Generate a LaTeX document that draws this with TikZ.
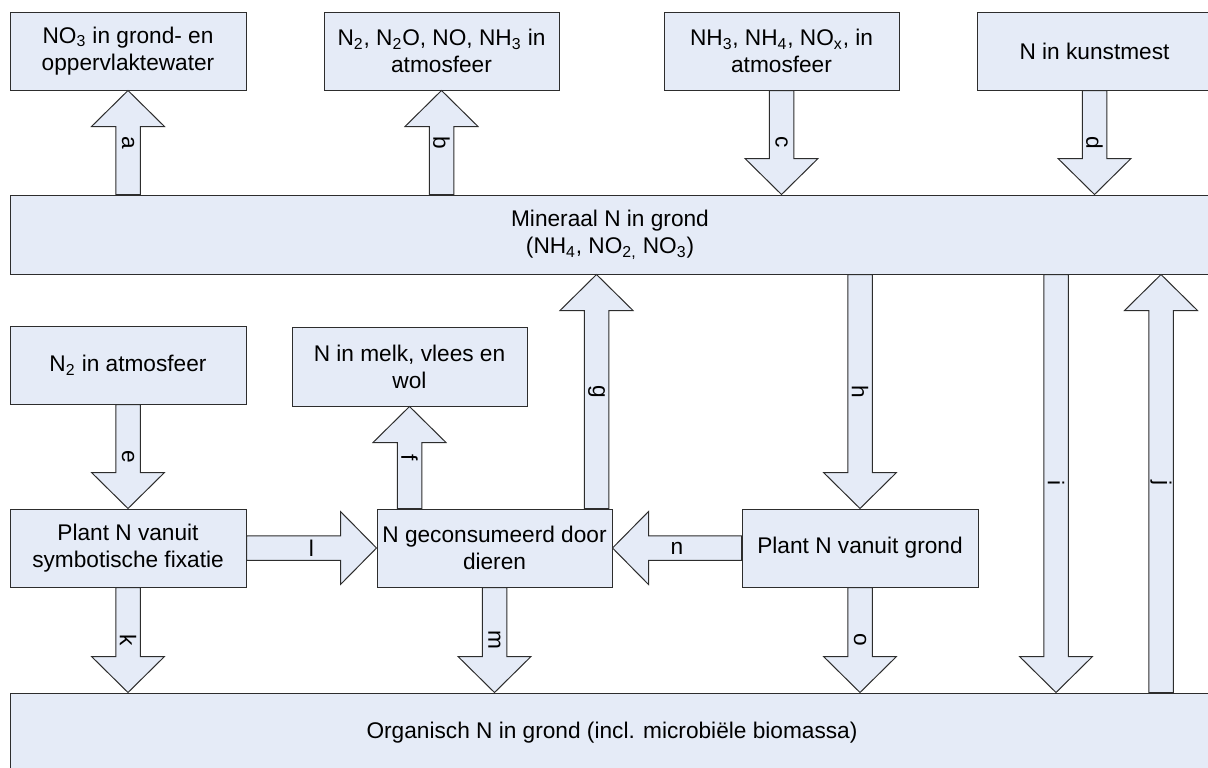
\documentclass[tikz,border=0pt]{standalone}
\usepackage{fontspec}
\setmainfont{Liberation Sans}
\usetikzlibrary{calc}
\definecolor{boxfill}{RGB}{229,235,247}
\definecolor{edge}{RGB}{45,45,45}
\tikzset{
  box/.style={draw=edge, fill=boxfill, line width=0.6pt, inner sep=0pt, align=center,
    font=\fontsize{13.6}{16.2}\selectfont},
  flow/.style={draw=edge, fill=boxfill, line width=0.6pt, line join=miter},
  flowlabel/.style={inner sep=0pt, font=\fontsize{13.6}{16.2}\selectfont},
}
% rectangular box: name, centre x, centre y, width, height, text
\newcommand\bx[6]{\node[box, minimum width={#4*0.6pt}, minimum height={#5*0.6pt}] (#1) at (#2,#3) {#6};}
% block arrow from #1 to #2 with label #4 (label options #3)
\newcommand\flowarrow[4]{%
  \path[flow] let \p1=(#1), \p2=(#2), \n2={atan2(\y2-\y1,\x2-\x1)} in
    ($(\p1)+(\n2+90:7.35pt)$)
    -- ($(\p2)+(\n2+180:21.6pt)+(\n2+90:7.35pt)$)
    -- ($(\p2)+(\n2+180:21.6pt)+(\n2+90:21.9pt)$)
    -- (\p2)
    -- ($(\p2)+(\n2+180:21.6pt)+(\n2-90:21.9pt)$)
    -- ($(\p2)+(\n2+180:21.6pt)+(\n2-90:7.35pt)$)
    -- ($(\p1)+(\n2-90:7.35pt)$) -- cycle;
  \node[flowlabel, #3] at ($(#1)!0.5!(#2)$) {#4};}

\begin{document}
\begin{tikzpicture}[x=0.6pt, y=-0.6pt]
\useasboundingbox (0,0) rectangle (1208,767);

% sources and sinks at the top
\bx{no3}{128}{51}{236}{78}{NO\textsubscript{3} in grond- en\\oppervlaktewater}
\bx{gasout}{441.5}{51}{235}{78}{N\textsubscript{2}, N\textsubscript{2}O, NO, NH\textsubscript{3} in\\atmosfeer}
\bx{gasin}{781.5}{51}{235}{78}{NH\textsubscript{3}, NH\textsubscript{4}, NO\textsubscript{x}, in\\atmosfeer}
\bx{kunst}{1094.5}{51}{235}{78}{N in kunstmest}

% soil pools
\bx{mineral}{610}{234.5}{1200}{79}{Mineraal N in grond\\(NH\textsubscript{4}, NO\textsubscript{2,} NO\textsubscript{3})}
\bx{organic}{612}{733}{1204}{80}{Organisch N in grond (incl. microbiële biomassa)}

% middle part
\bx{ntwo}{128}{365}{236}{78}{N\textsubscript{2} in atmosfeer}
\bx{melk}{409.5}{366.5}{235}{79}{N in melk, vlees en\\wol}
\bx{symb}{128}{548}{236}{78}{Plant N vanuit\\symbotische fixatie}
\bx{gecon}{494.5}{548}{235}{78}{N geconsumeerd door\\dieren}
\bx{grond}{860}{548}{236}{78}{Plant N vanuit grond}

\coordinate (gfoot) at ($(gecon.north east)+(-16,0)$);
\coordinate (icol) at (1056,0);
\coordinate (jcol) at (1161,0);

% flows
\flowarrow{no3.south |- mineral.north}{no3.south}{rotate=-90}{a}
\flowarrow{gasout.south |- mineral.north}{gasout.south}{rotate=-90}{b}
\flowarrow{gasin.south}{gasin.south |- mineral.north}{rotate=-90}{c}
\flowarrow{kunst.south}{kunst.south |- mineral.north}{rotate=-90}{d}
\flowarrow{ntwo.south}{symb.north}{rotate=-90}{e}
\flowarrow{melk.south |- gecon.north}{melk.south}{rotate=-90}{f}
\flowarrow{gfoot}{gfoot |- mineral.south}{rotate=-90}{g}
\flowarrow{grond.north |- mineral.south}{grond.north}{rotate=-90}{h}
\flowarrow{icol |- mineral.south}{icol |- organic.north}{rotate=-90}{i}
\flowarrow{jcol |- organic.north}{jcol |- mineral.south}{rotate=-90}{j}
\flowarrow{symb.south}{symb.south |- organic.north}{rotate=-90}{k}
\flowarrow{symb.east}{gecon.west}{}{l}
\flowarrow{gecon.south}{gecon.south |- organic.north}{rotate=-90}{m}
\flowarrow{grond.west}{gecon.east}{}{n}
\flowarrow{grond.south}{grond.south |- organic.north}{rotate=-90}{o}
\end{tikzpicture}
\end{document}
